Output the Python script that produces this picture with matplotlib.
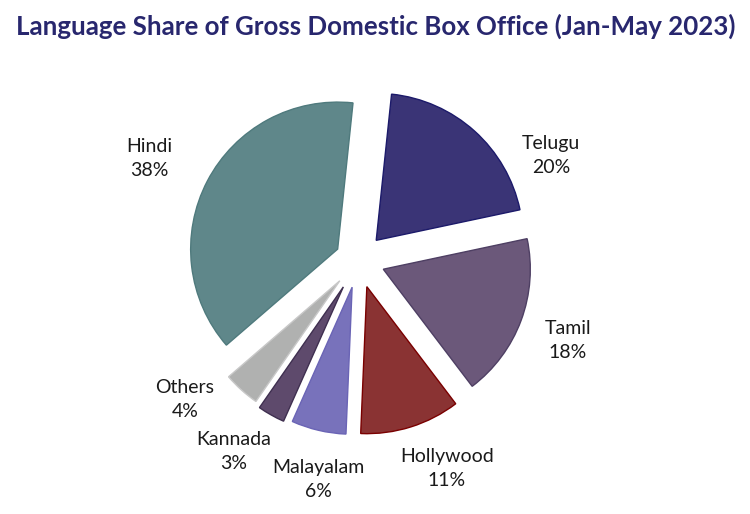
import matplotlib.pyplot as plt

languages = ["Telugu", "Tamil", "Hollywood", "Malayalam", "Kannada", "Others", "Hindi"]
shares = [20, 18, 11, 6, 3, 4, 38]
colors = ["#3a3476", "#6b587a", "#8a3333", "#7872bb", "#5e4a6c", "#b0b1b0", "#5f878a"]
edges = ["#1c1a6a", "#4e3f63", "#7a0000", "#6a64b5", "#3f2f50", "#c8c8c8", "#4f7a7d"]
explode = [0.18, 0.18, 0.19, 0.19, 0.21, 0.19, 0.16]

# label spots, in pie-radius units from the centre
label_pos = [(1.31, 0.71), (1.425, -0.545), (0.60, -1.42), (-0.27, -1.49),
             (-0.85, -1.30), (-1.18, -0.95), (-1.42, 0.69)]

fig = plt.figure(figsize=(7.5, 5.14), dpi=100)
ax = fig.add_axes([0, 0, 1, 1])

wedges, _ = ax.pie(shares, colors=colors, explode=explode, startangle=84,
                   counterclock=False, radius=1.0,
                   wedgeprops=dict(linewidth=1.0))
for w, ec in zip(wedges, edges):
    w.set_edgecolor(ec)

for lang, s, (x, y) in zip(languages, shares, label_pos):
    ax.text(x, y, f"{lang}\n{s}%", ha="center", va="center", fontsize=14,
            family="Lato", color="#1a1a1a", linespacing=1.5)

r = 147.0
ax.set_xlim(-358.5 / r, (750 - 358.5) / r)
ax.set_ylim(-254 / r, 260 / r)
ax.set_aspect("auto")
ax.axis("off")

fig.text(0.501, 0.948, "Language Share of Gross Domestic Box Office (Jan-May 2023)",
         ha="center", va="center", fontsize=18.6, fontweight="bold",
         family="Lato", color="#28276e")

fig.savefig("out.png", dpi=100)
